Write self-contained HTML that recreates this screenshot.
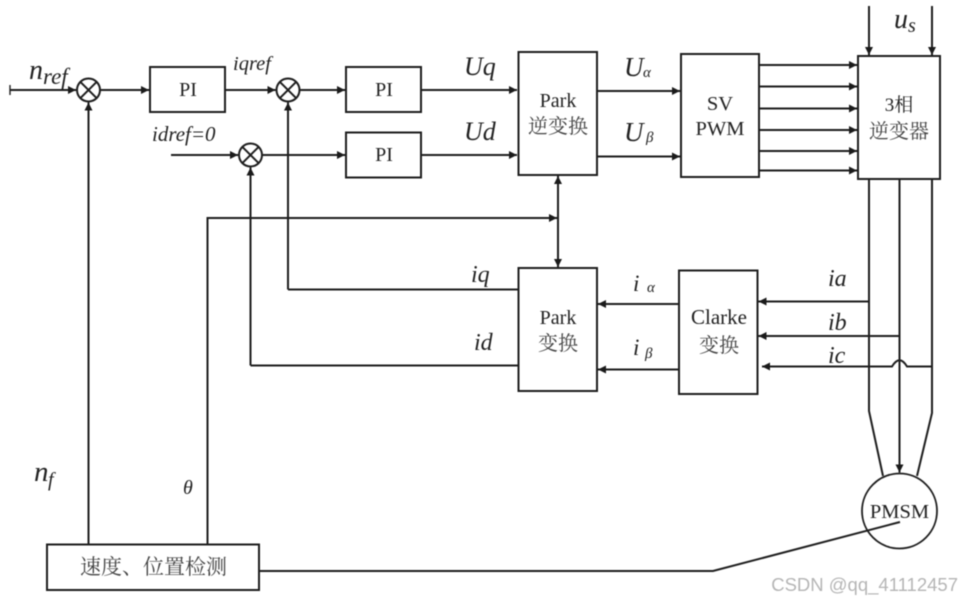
<!DOCTYPE html>
<html><head><meta charset="utf-8"><style>html,body{margin:0;padding:0;background:#fff}svg{display:block;filter:blur(.45px)}</style></head><body>
<svg width="961" height="603" viewBox="0 0 961 603" xmlns="http://www.w3.org/2000/svg">
<defs>
<marker id="a" markerUnits="userSpaceOnUse" markerWidth="10" markerHeight="10" refX="8" refY="4" orient="auto-start-reverse"><path d="M0 0L8 4L0 8Z" fill="#1a1a1a"/></marker>
</defs>
<g fill="none" stroke="#1e1e1e" stroke-width="2">
<rect x="150" y="67" width="75" height="45"/><rect x="346" y="67" width="75" height="45"/><rect x="346" y="132.500" width="75" height="45"/>
<rect x="518.500" y="52" width="78.500" height="123"/><rect x="681" y="54" width="78" height="123"/><rect x="858" y="56" width="82" height="123"/>
<rect x="518.500" y="268" width="78.500" height="123"/><rect x="679" y="270.500" width="78.500" height="123.500"/><rect x="47" y="544.500" width="212" height="45.500"/>
<circle cx="88.500" cy="90" r="11.500"/><circle cx="288" cy="90" r="11.500"/><circle cx="250.500" cy="155" r="11.500"/>
<circle cx="899.500" cy="511" r="37.500" stroke-width="1.800"/>
<path d="M80.400 81.900L96.600 98.100M96.600 81.900L80.400 98.100M279.900 81.900L296.100 98.100M296.100 81.900L279.900 98.100M242.400 146.900L258.600 163.100M258.600 146.900L242.400 163.100"/>
<path d="M10 85V95" stroke-width="1.400"/>
<g marker-end="url(#a)">
<path d="M10 90H76"/><path d="M100 90H149"/><path d="M225 90H275.500"/><path d="M299.500 90H345"/><path d="M421 90H517"/>
<path d="M171 155H238"/><path d="M262 155H345"/><path d="M421 155H517"/>
<path d="M88.500 544V102.500"/><path d="M288 289.500V102.500"/><path d="M250.500 365.500V167.500"/>
<path d="M207.500 544V218H557"/>
<path d="M597 91H680"/><path d="M597 156.500H680"/>
<path d="M759 65H857"/><path d="M759 86.500H857"/><path d="M759 108.500H857"/><path d="M759 130H857"/><path d="M759 151H857"/><path d="M759 170.500H857"/>
<path d="M869 6V55"/><path d="M932 6V55"/>
<path d="M869 301.500H758.500"/><path d="M899.500 336H758.500"/><path d="M932 366.500H907Q899.500 354 892 366.500H762"/>
<path d="M518 289.500H288" marker-end="none"/>
<path d="M518 365.500H250.500" marker-end="none"/>
<path d="M679 304H598"/><path d="M679 369.500H598"/>
<path d="M899.500 179V472.500"/>
</g>
<path d="M558 176V267" marker-start="url(#a)" marker-end="url(#a)"/>
<path d="M869 179V411L883 476"/><path d="M932 179V413L917 476"/>
<path d="M259 571H713L900 522"/>
</g>
<g font-family="'Liberation Serif','Noto Serif CJK SC',serif" fill="#222" text-anchor="middle" font-size="20">
<text x="188" y="96" font-size="20">PI</text><text x="384" y="96" font-size="20">PI</text><text x="384" y="161" font-size="20">PI</text>
<text x="558" y="107" font-size="20">Park</text><text x="558" y="133" font-size="20" fill="#444">逆变换</text>
<text x="720" y="110" font-size="20.500">SV</text><text x="720" y="135" font-size="20.500">PWM</text>
<text x="899" y="111" font-size="19">3相</text><text x="899" y="138" font-size="20" fill="#444">逆变器</text>
<text x="558" y="324" font-size="20">Park</text><text x="558" y="350" font-size="20" fill="#444">变换</text>
<text x="719" y="324" font-size="21">Clarke</text><text x="719" y="352" font-size="20" fill="#444">变换</text>
<text x="899.500" y="518" font-size="20.500">PMSM</text>
<text x="153.500" y="574" font-size="21" fill="#444">速度、位置检测</text>
</g>
<g font-family="'Liberation Serif',serif" font-style="italic" fill="#222">
<text x="29" y="79" font-size="28">n</text><text x="43" y="84" font-size="23">ref</text>
<text x="233" y="70" font-size="20.500">iqref</text><text x="152" y="141" font-size="21">idref=0</text>
<text x="464" y="75" font-size="26">Uq</text><text x="464" y="140" font-size="26">Ud</text>
<text x="624" y="76" font-size="27">U</text><text x="643" y="77" font-size="15">α</text>
<text x="624" y="141" font-size="27">U</text><text x="646" y="142" font-size="15">β</text>
<text x="894" y="28" font-size="28">u</text><text x="908" y="32" font-size="20">s</text>
<text x="471" y="282" font-size="24">iq</text><text x="474" y="350" font-size="24">id</text>
<text x="633" y="291" font-size="23">i</text><text x="647" y="292" font-size="15">α</text>
<text x="633" y="355" font-size="23">i</text><text x="645" y="358" font-size="15">β</text>
<text x="828" y="286" font-size="24">ia</text><text x="828" y="330" font-size="24">ib</text><text x="828" y="363" font-size="24">ic</text>
<text x="34" y="481" font-size="29">n</text><text x="48" y="486" font-size="20">f</text>
<text x="183" y="494" font-size="20">θ</text>
</g>
<text x="958" y="591" text-anchor="end" font-family="'Liberation Sans',sans-serif" font-size="18.500" fill="#b5b5b5">CSDN @qq_41112457</text>
</svg>
</body></html>
